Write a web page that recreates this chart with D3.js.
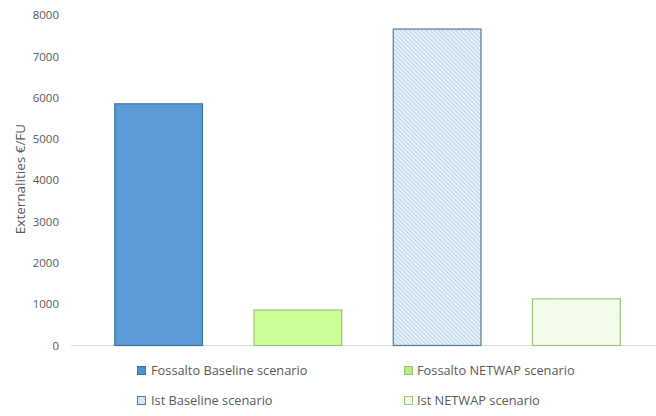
<!DOCTYPE html>
<html>
<head>
<meta charset="utf-8">
<script src="https://cdn.jsdelivr.net/npm/d3@7"></script>
<style>
  html, body { margin: 0; padding: 0; background: #fff; }
  svg { display: block; font-family: "Open Sans", "Liberation Sans", sans-serif; }
</style>
</head>
<body>
<svg id="chart" width="656" height="416"></svg>
<script>
const categories = ["Fossalto Baseline scenario", "Fossalto NETWAP scenario", "Ist Baseline scenario", "Ist NETWAP scenario"];
const values = [5850, 860, 7660, 1130];
const yTicks = [0, 1000, 2000, 3000, 4000, 5000, 6000, 7000, 8000];
const yTitle = "Externalities €/FU";

const svg = d3.select("#chart");
const defs = svg.append("defs");

function hatch(id, bg, line) {
  const p = defs.append("pattern").attr("id", id)
    .attr("patternUnits", "userSpaceOnUse").attr("width", 3).attr("height", 3)
    .attr("patternTransform", "rotate(-45)");
  p.append("rect").attr("width", 3).attr("height", 3).attr("fill", bg);
  p.append("rect").attr("width", 1.4).attr("height", 3).attr("fill", line);
}
hatch("hBlue", "#f0f6fc", "#bcd4ec");
hatch("hGreen", "#fbfff6", "#eaf8dc");

const fills = ["#5b9bd5", "#c9ff96", "url(#hBlue)", "url(#hGreen)"];
const strokes = ["#41719c", "#9cbf7a", "#5d7896", "#9cc47c"];
const legendFills = ["#4f8fcf", "#b9f07f", "url(#hBlue)", "#f3fbe9"];

const y = d3.scaleLinear().domain([0, 8000]).range([345.5, 15]);
const x = d3.scaleBand().domain(categories).range([89, 646]).paddingInner(0.37).paddingOuter(0.185);

// axis line
svg.append("line").attr("x1", 71).attr("x2", 656).attr("y1", y(0)).attr("y2", y(0))
  .attr("stroke", "#d9d9d9").attr("stroke-width", 1);

// y axis labels
const yAxis = d3.axisLeft(y).tickValues(yTicks).tickSize(0).tickPadding(0).tickFormat(d3.format("d"));
const gy = svg.append("g").attr("transform", "translate(59,0)").call(yAxis);
gy.select(".domain").remove();
gy.selectAll("text").attr("fill", "#595959").style("font-size", "11.5px")
  .style("font-family", "'Open Sans', sans-serif");

svg.append("text").attr("transform", `translate(25,179) rotate(-90)`)
  .attr("text-anchor", "middle").attr("fill", "#595959").style("font-size", "13.5px")
  .text(yTitle);

// bars
svg.append("g").selectAll("rect").data(values).join("rect")
  .attr("x", (d, i) => x(categories[i]))
  .attr("width", x.bandwidth())
  .attr("y", d => y(d))
  .attr("height", d => y(0) - y(d))
  .attr("fill", (d, i) => fills[i])
  .attr("stroke", (d, i) => strokes[i])
  .attr("stroke-width", 1.2);

// legend
const legendPos = [[137, 371], [404, 371], [137, 401], [404, 401]];
const lg = svg.append("g").selectAll("g").data(categories).join("g")
  .attr("transform", (d, i) => `translate(${legendPos[i][0]},${legendPos[i][1]})`);
lg.append("rect").attr("x", 0.5).attr("y", -4.5).attr("width", 8).attr("height", 8)
  .attr("fill", (d, i) => legendFills[i]).attr("stroke", (d, i) => strokes[i]).attr("stroke-width", 1);
lg.append("text").attr("x", (d, i) => i % 2 === 0 ? 14 : 13).attr("y", 0).attr("dy", "0.35em")
  .attr("fill", "#595959").style("font-size", "12.8px").text(d => d);
</script>
</body>
</html>
